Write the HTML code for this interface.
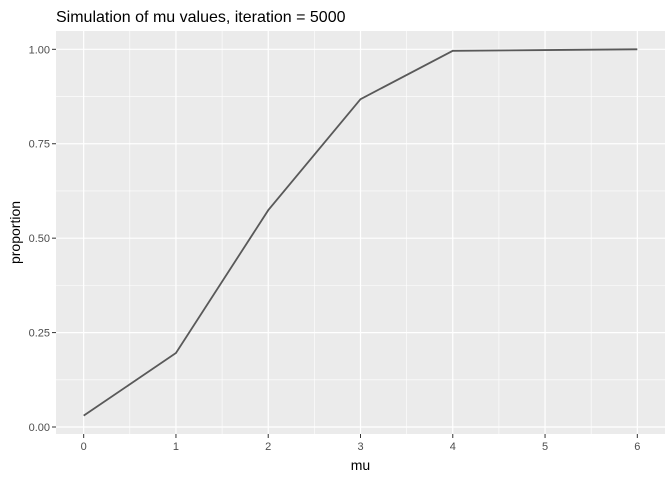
<!DOCTYPE html>
<html><head><meta charset="utf-8"><style>
body{margin:0;background:#fff}
text{font-family:"Liberation Sans",sans-serif}
</style></head><body>
<svg id="chart" width="672" height="480" xmlns="http://www.w3.org/2000/svg"></svg>
<script>
const categories=[0,1,2,3,4,5,6];
const proportions=[0.03,0.196,0.574,0.868,0.996,0.998,1.0];
const xTicks=[0,1,2,3,4,5,6];
const yTicks=[0,0.25,0.5,0.75,1];
const yTickLabels=["0.00","0.25","0.50","0.75","1.00"];

const svg=document.getElementById('chart');
const NS='http://www.w3.org/2000/svg';
const L=56,R=665,T=31,B=434;
const xmin=-0.3,xmax=6.3;
const ymin=0.03-0.0485,ymax=1.0485;
function xs(v){return L+(v-xmin)/(xmax-xmin)*(R-L);}
function ys(v){return B-(v-ymin)/(ymax-ymin)*(B-T);}
function mk(tag,attrs,name){const e=document.createElementNS(NS,tag);for(const k in attrs)e.setAttribute(k,attrs[k]);


svg.appendChild(e);return e;}

mk('rect',{x:L,y:T,width:R-L,height:B-T,fill:'#ebebeb'},'plot-panel');
// minor grid
for(let i=0;i<xTicks.length-1;i++){const v=(xTicks[i]+xTicks[i+1])/2;
mk('line',{x1:xs(v),x2:xs(v),y1:T,y2:B,stroke:'#fff','stroke-width':0.6},'minor-grid-x');}
for(let i=0;i<yTicks.length-1;i++){const v=(yTicks[i]+yTicks[i+1])/2;
mk('line',{x1:L,x2:R,y1:ys(v),y2:ys(v),stroke:'#fff','stroke-width':0.6},'minor-grid-y');}
xTicks.forEach(v=>{
mk('line',{x1:xs(v),x2:xs(v),y1:T,y2:B,stroke:'#fff','stroke-width':1.2},'major-grid-x');
mk('line',{x1:xs(v),x2:xs(v),y1:B,y2:B+4,stroke:'#333','stroke-width':1},'x-tick');
const t=mk('text',{x:xs(v),y:B+16,'text-anchor':'middle','font-size':11,fill:'#4d4d4d'},'x-tick-label');t.textContent=v;});
yTicks.forEach((v,i)=>{
mk('line',{x1:L,x2:R,y1:ys(v),y2:ys(v),stroke:'#fff','stroke-width':1.2},'major-grid-y');
mk('line',{x1:L-4,x2:L,y1:ys(v),y2:ys(v),stroke:'#333','stroke-width':1},'y-tick');
const t=mk('text',{x:L-6,y:ys(v)+4,'text-anchor':'end','font-size':11,fill:'#4d4d4d'},'y-tick-label');t.textContent=yTickLabels[i];});
mk('polyline',{points:categories.map((c,i)=>xs(c)+','+ys(proportions[i])).join(' '),fill:'none',stroke:'#595959','stroke-width':1.8},'proportion-line');

let t=mk('text',{x:L,y:22,'font-size':16,fill:'#000'},'chart-title');t.textContent='Simulation of mu values, iteration = 5000';
t=mk('text',{x:(L+R)/2,y:470,'text-anchor':'middle','font-size':14,fill:'#000'},'x-axis-title');t.textContent='mu';
t=mk('text',{x:0,y:0,'text-anchor':'middle','font-size':14,fill:'#000',transform:`translate(20,${(T+B)/2}) rotate(-90)`},'y-axis-title');t.textContent='proportion';
</script>
</body></html>
